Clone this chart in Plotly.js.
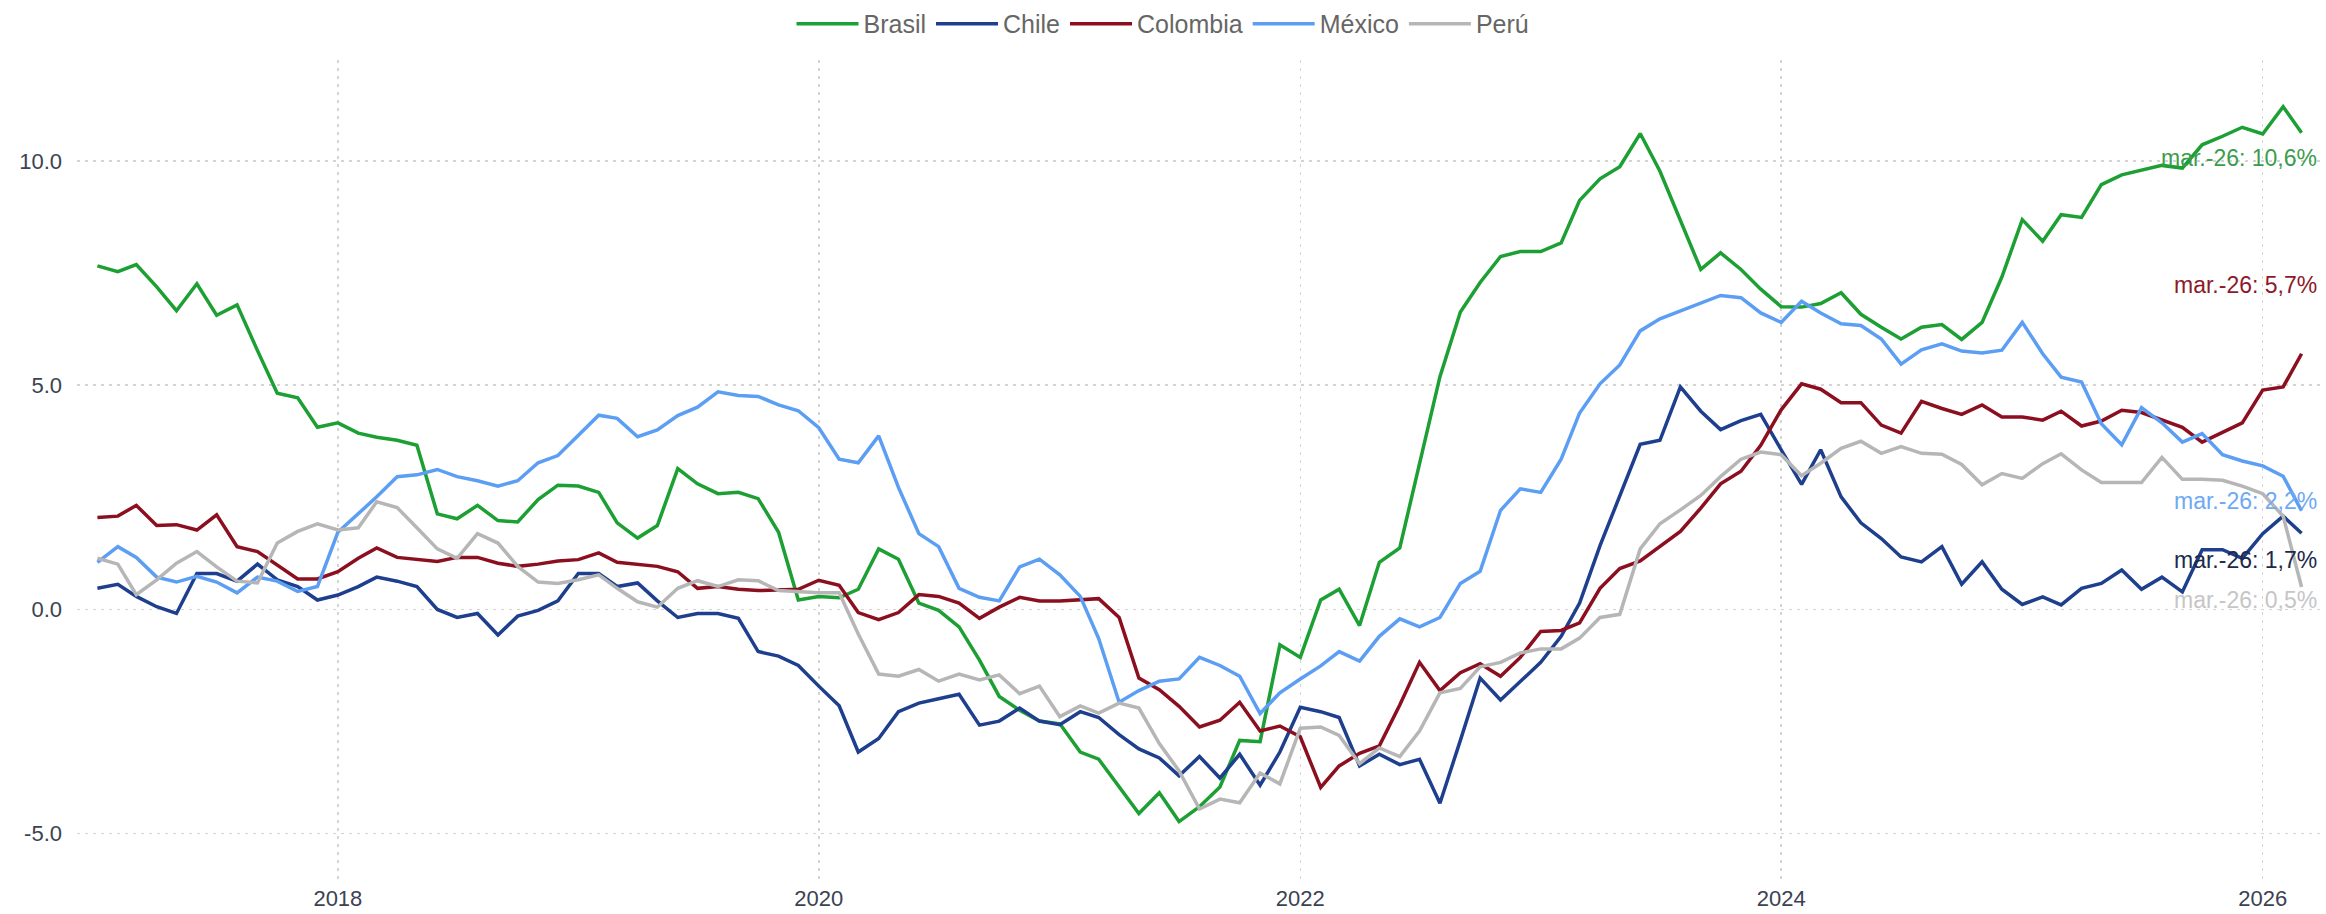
<!DOCTYPE html>
<html>
<head>
<meta charset="utf-8">
<script src="https://cdn.plot.ly/plotly-3.0.1.min.js"></script>
<style>html,body{margin:0;padding:0;background:#fff;}#chart{width:2326px;height:914px;}</style>
</head>
<body>
<div id="chart"></div>
<script>
// Monthly series, Jan 2017 .. Mar 2026 (111 months)
const startYear = 2017, startMonth = 1, nMonths = 111;

const seriesNames = ["Brasil", "Chile", "Colombia", "México", "Perú"];

const brasil = [7.66,7.53,7.69,7.19,6.66,7.26,6.56,6.79,5.77,4.82,4.72,4.06,
 4.16,3.93,3.84,3.77,3.66,2.13,2.02,2.32,1.98,1.95,2.45,2.77,
 2.75,2.61,1.93,1.59,1.87,3.14,2.80,2.58,2.61,2.47,1.72,0.21,
 0.29,0.26,0.45,1.35,1.12,0.14,-0.02,-0.39,-1.13,-1.94,-2.25,-2.49,
 -2.55,-3.18,-3.34,-3.97,-4.55,-4.09,-4.73,-4.40,-3.96,-2.92,-2.95,-0.79,
 -1.07,0.21,0.45,-0.36,1.05,1.37,3.29,5.19,6.63,7.29,7.87,7.98,
 7.98,8.17,9.12,9.60,9.87,10.61,9.77,8.66,7.58,7.95,7.58,7.14,
 6.75,6.74,6.82,7.06,6.58,6.29,6.03,6.29,6.35,6.02,6.40,7.41,
 8.69,8.21,8.80,8.74,9.47,9.69,9.80,9.90,9.84,10.36,10.55,10.75,
 10.60,11.21,10.63];

const chile = [0.47,0.56,0.29,0.06,-0.09,0.80,0.80,0.63,1.01,0.66,0.51,0.21,
 0.32,0.51,0.72,0.63,0.51,0.00,-0.18,-0.09,-0.57,-0.15,-0.02,0.19,
 0.80,0.80,0.51,0.59,0.19,-0.18,-0.09,-0.09,-0.20,-0.94,-1.04,-1.25,
 -1.71,-2.15,-3.18,-2.88,-2.28,-2.09,-1.99,-1.89,-2.58,-2.49,-2.20,-2.49,
 -2.57,-2.28,-2.41,-2.79,-3.11,-3.31,-3.71,-3.28,-3.76,-3.23,-3.92,-3.18,
 -2.18,-2.28,-2.41,-3.49,-3.23,-3.46,-3.34,-4.32,-2.92,-1.53,-2.02,-1.60,
 -1.18,-0.60,0.14,1.42,2.51,3.68,3.77,4.96,4.42,4.01,4.21,4.35,
 3.56,2.79,3.56,2.51,1.93,1.58,1.17,1.06,1.40,0.56,1.06,0.45,
 0.11,0.28,0.10,0.47,0.58,0.88,0.45,0.72,0.39,1.33,1.33,1.14,
 1.69,2.08,1.70];

const colombia = [2.05,2.08,2.32,1.87,1.89,1.77,2.11,1.40,1.29,0.98,0.68,0.68,
 0.84,1.14,1.37,1.16,1.11,1.07,1.16,1.16,1.03,0.96,1.01,1.08,
 1.11,1.26,1.05,1.01,0.96,0.84,0.47,0.51,0.45,0.42,0.43,0.45,
 0.65,0.54,-0.07,-0.23,-0.07,0.33,0.29,0.14,-0.20,0.05,0.27,0.19,
 0.19,0.22,0.24,-0.18,-1.53,-1.79,-2.16,-2.62,-2.47,-2.07,-2.71,-2.60,
 -2.84,-3.97,-3.49,-3.21,-3.04,-2.13,-1.18,-1.81,-1.41,-1.21,-1.49,-1.07,
 -0.49,-0.47,-0.30,0.47,0.91,1.08,1.40,1.74,2.26,2.80,3.08,3.66,
 4.45,5.03,4.91,4.61,4.61,4.11,3.93,4.64,4.48,4.35,4.56,4.29,
 4.29,4.22,4.42,4.09,4.20,4.44,4.39,4.22,4.06,3.73,3.94,4.16,
 4.89,4.96,5.70];

const mexico = [1.05,1.40,1.16,0.72,0.61,0.74,0.61,0.37,0.72,0.63,0.40,0.51,
 1.72,2.14,2.51,2.96,3.00,3.12,2.96,2.87,2.75,2.87,3.27,3.43,
 3.89,4.33,4.26,3.85,4.00,4.32,4.51,4.85,4.77,4.75,4.56,4.43,
 4.05,3.35,3.27,3.87,2.72,1.69,1.40,0.47,0.27,0.19,0.95,1.12,
 0.77,0.29,-0.65,-2.07,-1.81,-1.60,-1.55,-1.07,-1.25,-1.49,-2.32,-1.86,
 -1.55,-1.26,-0.94,-1.15,-0.60,-0.21,-0.39,-0.18,0.58,0.85,2.21,2.69,
 2.61,3.35,4.38,5.03,5.45,6.21,6.48,6.66,6.84,7.00,6.95,6.61,
 6.40,6.87,6.61,6.37,6.33,6.03,5.47,5.79,5.92,5.76,5.72,5.78,
 6.40,5.70,5.18,5.07,4.14,3.67,4.50,4.16,3.73,3.92,3.45,3.31,
 3.20,2.97,2.20];

const peru = [1.14,1.01,0.33,0.66,1.03,1.29,0.95,0.63,0.59,1.48,1.74,1.91,
 1.77,1.82,2.40,2.27,1.82,1.35,1.14,1.69,1.48,0.96,0.61,0.58,
 0.66,0.77,0.47,0.17,0.05,0.47,0.64,0.51,0.66,0.64,0.42,0.40,
 0.37,0.37,-0.55,-1.44,-1.49,-1.34,-1.60,-1.44,-1.57,-1.46,-1.88,-1.71,
 -2.39,-2.15,-2.31,-2.09,-2.20,-2.99,-3.60,-4.45,-4.23,-4.31,-3.65,-3.89,
 -2.65,-2.62,-2.81,-3.44,-3.09,-3.28,-2.71,-1.86,-1.76,-1.28,-1.18,-0.97,
 -0.88,-0.88,-0.64,-0.18,-0.11,1.35,1.91,2.22,2.54,2.96,3.35,3.51,
 3.45,2.98,3.26,3.59,3.75,3.48,3.63,3.48,3.46,3.23,2.78,3.03,
 2.92,3.25,3.47,3.11,2.83,2.83,2.83,3.39,2.90,2.90,2.88,2.75,
 2.58,2.08,0.50];

const lastLabel = "mar.-26";
const yTickVals = [-5, 0, 5, 10];
const yTickText = ["-5.0", "0.0", "5.0", "10.0"];

// month axis
const dates = [];
for (let i = 0; i < nMonths; i++) {
  const y = startYear + Math.floor((startMonth - 1 + i) / 12);
  const m = ((startMonth - 1 + i) % 12) + 1;
  dates.push(y + "-" + String(m).padStart(2, "0") + "-01");
}

const allSeries = [brasil, chile, colombia, mexico, peru];
const lineColors = ["#1c9f33", "#1e3f8e", "#8c0f20", "#5b9ef3", "#b6b6b6"];
const labelColors = ["#3c9c4e", "#1c2a4c", "#8c1a2a", "#6ea9f4", "#c6c6c6"];
// vertical placement of end labels (offset from the last value, in axis units)
const labelOffsets = [-0.56, -0.60, 1.53, 0.22, -0.29];

const FONT = "Liberation Sans, Arial, Helvetica, sans-serif";

const traces = allSeries.map((vals, i) => ({
  type: "scatter",
  mode: "lines",
  name: seriesNames[i],
  x: dates,
  y: vals,
  line: {color: lineColors[i], width: 3.5},
  hoverinfo: "x+y+name"
}));

const annotations = allSeries.map((vals, i) => {
  const last = vals[vals.length - 1];
  return {
    xref: "paper", yref: "y",
    x: 0.9985, y: last + labelOffsets[i],
    xanchor: "right", yanchor: "middle",
    showarrow: false,
    text: lastLabel + ": " + last.toFixed(1).replace(".", ",") + "%",
    font: {family: FONT, size: 23, color: labelColors[i]}
  };
});

const gridStyle = {color: "#d4d4d4", dash: "3px,5px"};

const layout = {
  width: 2326, height: 914,
  margin: {l: 77, r: 4, t: 60, b: 31},
  paper_bgcolor: "#ffffff",
  plot_bgcolor: "#ffffff",
  font: {family: FONT, size: 22, color: "#3b4252"},
  showlegend: true,
  legend: {
    orientation: "h",
    xref: "container", yref: "container",
    x: 0.5, xanchor: "center",
    y: 0.999, yanchor: "top",
    font: {family: FONT, size: 25, color: "#666666"},
    itemwidth: 62,
    tracegroupgap: 0
  },
  xaxis: {
    type: "date",
    range: ["2016-12-01", "2026-04-01"],
    tick0: "2018-01-01",
    dtick: "M24",
    tickformat: "%Y",
    showgrid: true,
    gridcolor: gridStyle.color,
    griddash: gridStyle.dash,
    gridwidth: 1.5,
    zeroline: false,
    showline: false,
    ticks: "",
    tickfont: {family: FONT, size: 22, color: "#3b4252"}
  },
  yaxis: {
    range: [-6.1, 12.25],
    tickmode: "array",
    tickvals: yTickVals,
    ticktext: yTickText,
    showgrid: true,
    gridcolor: gridStyle.color,
    griddash: gridStyle.dash,
    gridwidth: 1.5,
    zeroline: false,
    showline: false,
    ticks: "",
    ticklabelstandoff: 14,
    tickfont: {family: FONT, size: 22, color: "#3b4252"}
  },
  annotations: annotations
};

Plotly.newPlot("chart", traces, layout, {staticPlot: true, displayModeBar: false});
</script>
</body>
</html>
